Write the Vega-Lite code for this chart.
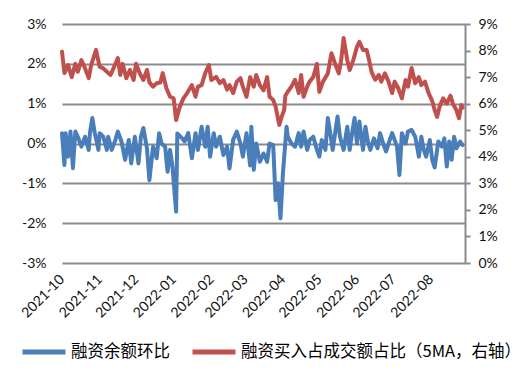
{
 "$schema": "https://vega.github.io/schema/vega-lite/v6.json",
 "width": 403,
 "height": 239,
 "autosize": {"type": "none"},
 "padding": {"left": 62, "top": 24, "right": 57, "bottom": 123},
 "background": "white",
 "config": {"view": {"stroke": null}, "font": "Lato"},
 "datasets": {
  "balance": [
   {"date":"2021-10-01","v":0.26},{"date":"2021-10-03","v":-0.54},{"date":"2021-10-04","v":0.26},{"date":"2021-10-06","v":-0.33},
   {"date":"2021-10-08","v":0.3},{"date":"2021-10-10","v":-0.62},{"date":"2021-10-12","v":0.3},{"date":"2021-10-14","v":0.17},
   {"date":"2021-10-17","v":-0.08},{"date":"2021-10-20","v":0.17},{"date":"2021-10-23","v":-0.16},{"date":"2021-10-24","v":0.26},
   {"date":"2021-10-26","v":0.64},{"date":"2021-10-28","v":0.26},{"date":"2021-10-31","v":-0.16},{"date":"2021-11-01","v":0.26},
   {"date":"2021-11-04","v":0.17},{"date":"2021-11-07","v":-0.16},{"date":"2021-11-08","v":0.17},{"date":"2021-11-11","v":-0.16},
   {"date":"2021-11-14","v":0.09},{"date":"2021-11-16","v":0.3},{"date":"2021-11-19","v":0.05},{"date":"2021-11-22","v":-0.41},
   {"date":"2021-11-25","v":0.09},{"date":"2021-11-27","v":-0.5},{"date":"2021-11-30","v":0.17},{"date":"2021-12-03","v":-0.5},
   {"date":"2021-12-05","v":0.17},{"date":"2021-12-07","v":0.39},{"date":"2021-12-10","v":-0.12},{"date":"2021-12-12","v":-0.92},
   {"date":"2021-12-15","v":-0.08},{"date":"2021-12-18","v":-0.37},{"date":"2021-12-20","v":0.26},{"date":"2021-12-22","v":0.0},
   {"date":"2021-12-25","v":-0.08},{"date":"2021-12-27","v":-0.71},{"date":"2021-12-29","v":-0.16},{"date":"2021-12-31","v":-0.58},
   {"date":"2022-01-03","v":-1.71},{"date":"2022-01-04","v":0.25},{"date":"2022-01-08","v":0.13},{"date":"2022-01-10","v":0.05},
   {"date":"2022-01-13","v":0.26},{"date":"2022-01-16","v":-0.37},{"date":"2022-01-19","v":0.26},{"date":"2022-01-21","v":-0.16},
   {"date":"2022-01-24","v":0.42},{"date":"2022-01-27","v":-0.08},{"date":"2022-01-29","v":0.42},{"date":"2022-01-31","v":-0.33},
   {"date":"2022-02-03","v":0.26},{"date":"2022-02-05","v":-0.08},{"date":"2022-02-08","v":0.17},{"date":"2022-02-11","v":-0.29},
   {"date":"2022-02-14","v":-0.08},{"date":"2022-02-16","v":-0.63},{"date":"2022-02-19","v":0.09},{"date":"2022-02-22","v":0.3},
   {"date":"2022-02-25","v":0.0},{"date":"2022-02-27","v":-0.33},{"date":"2022-03-02","v":0.26},{"date":"2022-03-05","v":-0.55},
   {"date":"2022-03-06","v":0.42},{"date":"2022-03-08","v":-0.66},{"date":"2022-03-10","v":0.0},{"date":"2022-03-13","v":-0.46},
   {"date":"2022-03-16","v":-0.25},{"date":"2022-03-19","v":-0.46},{"date":"2022-03-21","v":0.0},{"date":"2022-03-24","v":-0.04},
   {"date":"2022-03-26","v":-1.42},{"date":"2022-03-28","v":-1.0},{"date":"2022-03-30","v":-1.88},{"date":"2022-04-01","v":-0.75},
   {"date":"2022-04-04","v":0.42},{"date":"2022-04-05","v":0.17},{"date":"2022-04-08","v":0.0},{"date":"2022-04-11","v":-0.08},
   {"date":"2022-04-14","v":0.26},{"date":"2022-04-16","v":-0.08},{"date":"2022-04-18","v":0.3},{"date":"2022-04-21","v":-0.16},
   {"date":"2022-04-23","v":0.09},{"date":"2022-04-26","v":0.17},{"date":"2022-04-29","v":-0.16},{"date":"2022-05-01","v":-0.33},
   {"date":"2022-05-03","v":0.09},{"date":"2022-05-06","v":-0.16},{"date":"2022-05-08","v":0.64},{"date":"2022-05-10","v":0.26},
   {"date":"2022-05-12","v":-0.16},{"date":"2022-05-16","v":0.68},{"date":"2022-05-18","v":0.17},{"date":"2022-05-21","v":-0.16},
   {"date":"2022-05-24","v":0.42},{"date":"2022-05-26","v":-0.16},{"date":"2022-05-28","v":0.26},{"date":"2022-05-30","v":0.64},
   {"date":"2022-06-01","v":0.0},{"date":"2022-06-03","v":0.55},{"date":"2022-06-06","v":-0.16},{"date":"2022-06-08","v":0.42},
   {"date":"2022-06-10","v":0.05},{"date":"2022-06-12","v":-0.16},{"date":"2022-06-15","v":0.13},{"date":"2022-06-18","v":-0.12},
   {"date":"2022-06-20","v":0.26},{"date":"2022-06-23","v":-0.04},{"date":"2022-06-25","v":-0.2},{"date":"2022-06-28","v":0.09},
   {"date":"2022-06-30","v":0.26},{"date":"2022-07-04","v":-0.08},{"date":"2022-07-06","v":-0.79},{"date":"2022-07-08","v":0.26},
   {"date":"2022-07-11","v":0.0},{"date":"2022-07-13","v":0.3},{"date":"2022-07-16","v":0.34},{"date":"2022-07-19","v":0.17},
   {"date":"2022-07-22","v":-0.33},{"date":"2022-07-24","v":0.17},{"date":"2022-07-26","v":-0.16},{"date":"2022-07-28","v":-0.33},
   {"date":"2022-07-31","v":0.09},{"date":"2022-08-02","v":-0.41},{"date":"2022-08-04","v":-0.6},{"date":"2022-08-07","v":0.05},
   {"date":"2022-08-10","v":-0.08},{"date":"2022-08-12","v":0.13},{"date":"2022-08-14","v":-0.58},{"date":"2022-08-16","v":0.05},
   {"date":"2022-08-18","v":-0.41},{"date":"2022-08-20","v":0.17},{"date":"2022-08-22","v":-0.12},{"date":"2022-08-25","v":0.05},
   {"date":"2022-08-27","v":-0.04}
  ],
  "buy": [
   {"date":"2021-10-01","v":7.96},{"date":"2021-10-03","v":7.15},{"date":"2021-10-06","v":7.45},{"date":"2021-10-09","v":7.0},
   {"date":"2021-10-12","v":7.5},{"date":"2021-10-14","v":7.2},{"date":"2021-10-17","v":7.64},{"date":"2021-10-20","v":7.33},
   {"date":"2021-10-23","v":6.96},{"date":"2021-10-25","v":7.45},{"date":"2021-10-29","v":8.02},{"date":"2021-11-01","v":7.39},
   {"date":"2021-11-04","v":7.33},{"date":"2021-11-07","v":7.2},{"date":"2021-11-10","v":7.08},{"date":"2021-11-14","v":7.5},
   {"date":"2021-11-16","v":7.72},{"date":"2021-11-18","v":7.08},{"date":"2021-11-20","v":7.5},{"date":"2021-11-23","v":6.96},
   {"date":"2021-11-26","v":7.27},{"date":"2021-11-29","v":6.89},{"date":"2021-12-01","v":7.5},{"date":"2021-12-04","v":7.15},
   {"date":"2021-12-07","v":6.89},{"date":"2021-12-10","v":7.27},{"date":"2021-12-12","v":6.8},{"date":"2021-12-15","v":6.64},
   {"date":"2021-12-18","v":6.77},{"date":"2021-12-21","v":6.8},{"date":"2021-12-23","v":7.15},{"date":"2021-12-26","v":6.58},
   {"date":"2021-12-29","v":6.26},{"date":"2022-01-01","v":6.2},{"date":"2022-01-03","v":5.38},{"date":"2022-01-06","v":5.88},
   {"date":"2022-01-09","v":6.2},{"date":"2022-01-12","v":6.39},{"date":"2022-01-16","v":6.7},{"date":"2022-01-19","v":6.26},
   {"date":"2022-01-21","v":6.64},{"date":"2022-01-24","v":6.7},{"date":"2022-01-27","v":7.15},{"date":"2022-01-30","v":7.45},
   {"date":"2022-02-01","v":6.89},{"date":"2022-02-05","v":7.01},{"date":"2022-02-08","v":6.77},{"date":"2022-02-11","v":6.89},
   {"date":"2022-02-14","v":6.53},{"date":"2022-02-16","v":6.7},{"date":"2022-02-19","v":6.4},{"date":"2022-02-22","v":6.83},
   {"date":"2022-02-25","v":6.96},{"date":"2022-02-27","v":6.64},{"date":"2022-03-02","v":6.26},{"date":"2022-03-05","v":7.0},
   {"date":"2022-03-08","v":6.64},{"date":"2022-03-10","v":7.08},{"date":"2022-03-13","v":6.7},{"date":"2022-03-16","v":6.5},
   {"date":"2022-03-19","v":7.0},{"date":"2022-03-21","v":6.26},{"date":"2022-03-24","v":6.14},{"date":"2022-03-26","v":5.88},
   {"date":"2022-03-29","v":5.2},{"date":"2022-03-31","v":5.51},{"date":"2022-04-02","v":5.76},{"date":"2022-04-03","v":6.3},
   {"date":"2022-04-05","v":6.45},{"date":"2022-04-08","v":6.64},{"date":"2022-04-11","v":6.9},{"date":"2022-04-14","v":6.4},
   {"date":"2022-04-16","v":7.08},{"date":"2022-04-18","v":6.26},{"date":"2022-04-21","v":6.64},{"date":"2022-04-23","v":6.83},
   {"date":"2022-04-26","v":7.0},{"date":"2022-04-29","v":7.5},{"date":"2022-05-01","v":6.45},{"date":"2022-05-04","v":6.83},
   {"date":"2022-05-08","v":7.14},{"date":"2022-05-11","v":7.9},{"date":"2022-05-14","v":7.5},{"date":"2022-05-17","v":7.14},
   {"date":"2022-05-19","v":7.64},{"date":"2022-05-21","v":8.47},{"date":"2022-05-24","v":7.64},{"date":"2022-05-26","v":7.27},
   {"date":"2022-05-29","v":7.64},{"date":"2022-06-01","v":8.14},{"date":"2022-06-03","v":8.33},{"date":"2022-06-06","v":8.02},
   {"date":"2022-06-09","v":8.02},{"date":"2022-06-11","v":7.64},{"date":"2022-06-13","v":7.2},{"date":"2022-06-16","v":6.9},
   {"date":"2022-06-19","v":7.08},{"date":"2022-06-21","v":6.83},{"date":"2022-06-24","v":7.14},{"date":"2022-06-27","v":6.83},
   {"date":"2022-06-30","v":6.4},{"date":"2022-07-02","v":6.83},{"date":"2022-07-05","v":6.58},{"date":"2022-07-08","v":6.2},
   {"date":"2022-07-11","v":6.89},{"date":"2022-07-13","v":6.64},{"date":"2022-07-16","v":7.34},{"date":"2022-07-19","v":6.77},
   {"date":"2022-07-22","v":7.0},{"date":"2022-07-24","v":6.7},{"date":"2022-07-27","v":6.83},{"date":"2022-07-30","v":6.4},
   {"date":"2022-08-02","v":6.1},{"date":"2022-08-04","v":5.76},{"date":"2022-08-06","v":5.5},{"date":"2022-08-08","v":5.88},
   {"date":"2022-08-11","v":6.2},{"date":"2022-08-14","v":6.0},{"date":"2022-08-17","v":6.3},{"date":"2022-08-19","v":6.0},
   {"date":"2022-08-22","v":5.75},{"date":"2022-08-24","v":5.45},{"date":"2022-08-26","v":5.95},{"date":"2022-08-27","v":5.85}
  ]
 },
 "encoding": {
  "x": {"field": "date", "type": "temporal",
   "scale": {"type": "utc", "domain": [{"year": 2021, "month": 10, "date": 1, "utc": true}, {"year": 2022, "month": 8, "date": 29, "utc": true}]},
   "axis": {"title": null, "labelExpr": "utcFormat(datum.value, '%Y-%m')", "tickCount": {"interval": "month", "step": 1},
    "labelAngle": -45, "labelAlign": "right", "labelBaseline": "middle", "labelPadding": 14,
    "labelFontSize": 14, "labelColor": "#111111", "labelFont": "Lato", "ticks": false, "domain": false, "grid": false, "labelOverlap": false}}
 },
 "layer": [
  {
   "data": {"name": "balance"},
   "mark": {"type": "line", "strokeWidth": 4, "strokeJoin": "round", "strokeCap": "round"},
   "encoding": {
    "y": {"field": "v", "type": "quantitative",
     "scale": {"domain": [-3, 3], "nice": false},
     "axis": {"orient": "left", "title": null, "values": [-3, -2, -1, 0, 1, 2, 3], "labelExpr": "datum.value + '%'",
      "domain": false, "ticks": false, "grid": true, "gridColor": "#8a8a8a", "gridWidth": 2,
      "labelPadding": 16, "labelFontSize": 14, "labelColor": "#111111", "labelFont": "Lato"}},
    "color": {"datum": "融资余额环比", "type": "nominal",
     "scale": {"domain": ["融资余额环比", "融资买入占成交额占比（5MA，右轴）"], "range": ["#4a7ebb", "#c0504d"]},
     "legend": {"title": null, "orient": "none", "legendX": -42, "legendY": 304, "direction": "horizontal", "columns": 2,
      "symbolType": "stroke", "symbolSize": 1849, "symbolStrokeWidth": 5, "labelFont": "Noto Sans CJK SC",
      "labelFontSize": 16.5, "labelColor": "#000000", "labelLimit": 400, "columnPadding": 12, "labelOffset": 3}}
   }
  },
  {
   "data": {"name": "buy"},
   "mark": {"type": "line", "strokeWidth": 4, "strokeJoin": "round", "strokeCap": "round"},
   "encoding": {
    "y": {"field": "v", "type": "quantitative",
     "scale": {"domain": [0, 9], "nice": false},
     "axis": {"orient": "right", "title": null, "values": [0, 1, 2, 3, 4, 5, 6, 7, 8, 9], "labelExpr": "datum.value + '%'",
      "grid": false, "domain": true, "domainColor": "#8a8a8a", "domainWidth": 2,
      "ticks": true, "tickSize": 5, "tickColor": "#8a8a8a", "tickWidth": 2,
      "labelPadding": 8, "labelFontSize": 14, "labelColor": "#111111", "labelFont": "Lato"}},
    "color": {"datum": "融资买入占成交额占比（5MA，右轴）", "type": "nominal"}
   }
  }
 ],
 "resolve": {"scale": {"y": "independent"}, "axis": {"y": "independent"}}
}
